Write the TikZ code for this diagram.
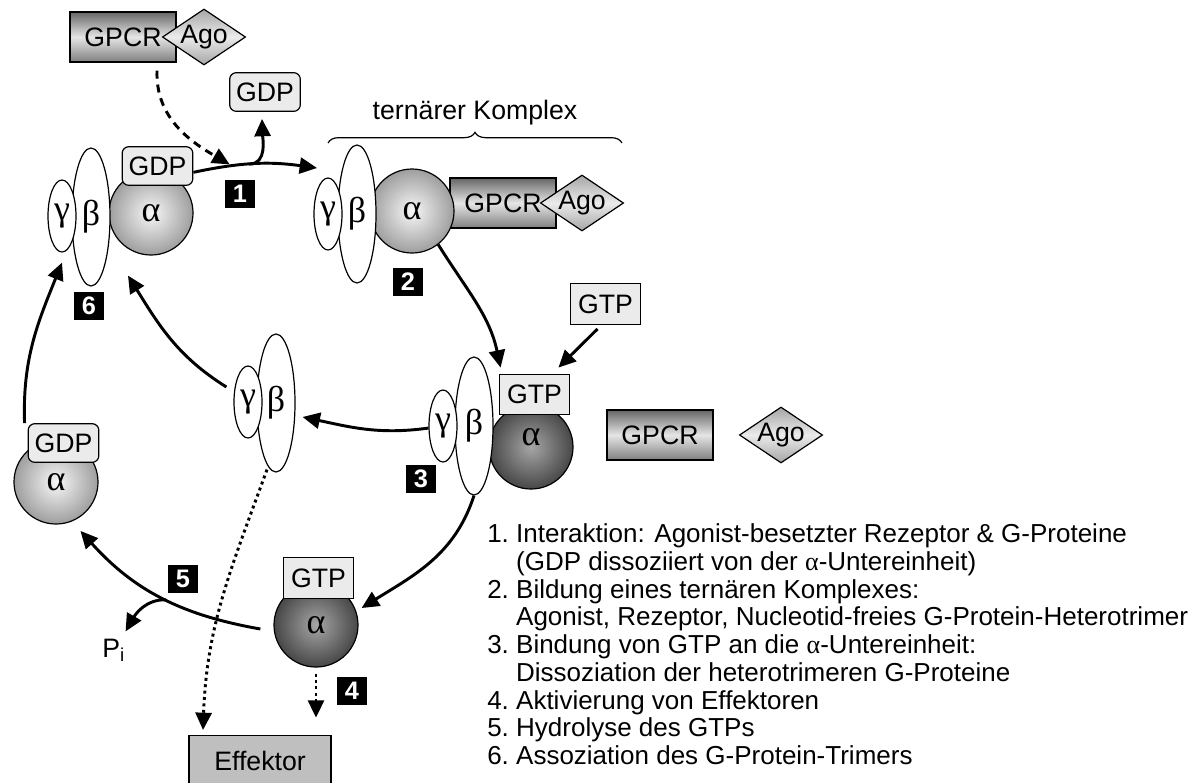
\documentclass[tikz,border=0pt]{standalone}
\usepackage{fontspec}
\setmainfont{Liberation Sans}
\newfontfamily\grk{Liberation Serif}
\usepackage{tikz}
\usetikzlibrary{shapes.geometric, arrows.meta, decorations.pathreplacing, calc}

\tikzset{
    sub/.style = {draw, line width = 0.9pt, inner sep = 0pt, font = \grk\fontsize{27}{27}\selectfont},
    gam/.style = {sub, ellipse, fill = white, minimum width = 21pt, minimum height = 54pt},
    bet/.style = {sub, ellipse, fill = white, minimum width = 28.5pt, minimum height = 103.5pt},
    alf/.style = {sub, circle, minimum size = 63pt, shading = radial, inner color = black!3, outer color = black!38},
    alfon/.style = {alf, inner color = black!35, outer color = black!72},
    gdp/.style = {draw, line width = 0.9pt, rounded corners = 5pt, fill = black!8, minimum width = 53pt, minimum height = 29pt, inner sep = 0pt},
    gtp/.style = {gdp, sharp corners, minimum height = 30.5pt},
    gpcr/.style = {draw, line width = 0.9pt, minimum width = 79.5pt, minimum height = 37.5pt, inner sep = 0pt, top color = black!60, bottom color = black!50, middle color = black!10},
    ago/.style = {draw, line width = 0.9pt, diamond, aspect = 1.5, inner sep = 0pt, minimum width = 61.5pt, minimum height = 42pt, top color = black!35, bottom color = black!35, middle color = black!8},
    num/.style = {fill = black, text = white, font = \bfseries\fontsize{19}{19}\selectfont, minimum width = 22pt, minimum height = 21pt, inner sep = 0pt},
    flow/.style = {line width = 2.2pt, -{Triangle[length = 13pt, width = 12pt]}},
    dots/.style = {flow, dash pattern = on 2.2pt off 2.6pt},
    dashflow/.style = {flow, dash pattern = on 6pt off 4.5pt}
}

\begin{document}
\begin{tikzpicture}[x = 0.75pt, y = -0.75pt, font = \fontsize{20}{20.8}\selectfont]
    \useasboundingbox (0,0) rectangle (1201,782);
    \coordinate (t1) at (317,168);
    \coordinate (kl) at (328,143);
    \coordinate (kr) at (622,143);

    \node[gpcr] (gpcr1) at (123,37) {GPCR};
    \node[ago] (ago1) at (204,37) {Ago};
    \node[gdp] (gdp1) at (265,92) {GDP};

    \node[alf] (a6) at (151,213) {α};
    \node[bet] (b6) at (91,217) {β};
    \node[gam] (g6) at (62,216) {γ};
    \node[gdp] (gdp6) at (157.5,166) {GDP};

    \node[gpcr] (gpcr2) at (503,203) {GPCR};
    \node[alf] (a2) at (412,211) {α};
    \node[bet] (b2) at (357,214) {β};
    \node[gam] (g2) at (328,214) {γ};
    \node[ago] (ago2) at (582,203) {Ago};
    \draw[line width = 0.9pt, decorate, decoration = {brace, amplitude = 8pt}] (kl) -- (kr);
    \node (komplex) at (475,113) {ternärer Komplex};

    \node[gtp] (gtp0) at (605.5,304) {GTP};
    \node[alfon] (a3) at (531,447) {\raisebox{15pt}{α}};
    \node[bet] (b3) at (474,426) {β};
    \node[gam] (g3) at (443,426) {γ};
    \node[gtp] (gtp3) at (534.5,394.5) {GTP};
    \node[gpcr] (gpcr3) at (660,435) {GPCR};
    \node[ago] (ago3) at (781,435) {Ago};

    \node[bet] (bf) at (276,403) {β};
    \node[gam] (gf) at (248,402) {γ};

    \node[alf] (a5) at (56,482) {α};
    \node[gdp] (gdp5) at (63.5,443) {GDP};

    \node[alfon] (a4) at (316,625) {α};
    \node[gtp] (gtp4) at (318.5,578) {GTP};
    \node[draw, line width = 0.9pt, fill = black!25, minimum width = 106.5pt, minimum height = 37.5pt, anchor = north] (eff) at (260,735) {Effektor};
    \node[anchor = base west, inner sep = 0pt] (pi) at (102,657) {P\textsubscript{i}};

    \node[num] (n1) at (240,194) {1};
    \node[num] (n2) at (408,282) {2};
    \node[num] (n3) at (421,479) {3};
    \node[num] (n4) at (352,691) {4};
    \node[num] (n5) at (183,579) {5};
    \node[num] (n6) at (89,306) {6};

    \draw[flow] (gdp6.-10) to[out = 12, in = 172] coordinate[pos = 0.3] (dtip) coordinate[pos = 0.45] (join) (t1);
    \draw[flow] (join) to[out = 0, in = -88] ($(gdp1.south)+(-3,7)$);
    \draw[dashflow, shorten > = 2pt] ($(gpcr1.south)+(34,8)$) to[out = -92, in = 150] (dtip);
    \draw[flow] (a2.-52) to[out = -58, in = 102] ($(gtp3.north west)+(2,-6)$);
    \draw[flow] ($(gtp0.south)+(-8,4)$) -- ($(gtp3.north east)+(-12,-6)$);
    \draw[flow] (g3.188) to[out = 188, in = -12] ($(bf.east)+(7,14)$);
    \draw[flow] ($(gf.west)+(-7,-15)$) to[out = 148, in = -58] ($(a6.south)+(-23,20)$);
    \draw[flow] ($(gdp5.north west)+(-3,0)$) to[out = 92, in = -112] ($(g6.south)+(0,10)$);
    \draw[flow] (b3.south) to[out = -108, in = 32] ($(a4.east)+(3,-17)$);
    \draw[flow] ($(a4.west)+(-13,4)$) to[out = 170, in = -48] coordinate[pos = 0.47] (hyd) ($(a5.-55)+(0,14)$);
    \draw[flow] (hyd) to[out = 178, in = 60] ($(pi.north)+(12,-7)$);
    \draw[dots] ($(bf.south)+(-9,-3)$) to[out = -110, in = 88] ($(eff.north)+(-57,-5)$);
    \draw[dots] ($(a4.south)+(0,6)$) -- ($(a4.south)+(0,50)$);

    \node[anchor = north west, inner sep = 0pt, font = \fontsize{19.5}{20.8}\selectfont] (liste) at (487,523) {%
        \begin{tabular}{@{}l@{\ }l@{}}
            1. & Interaktion: Agonist-besetzter Rezeptor \& G-Proteine\\
               & (GDP dissoziiert von der {\grk α}-Untereinheit)\\
            2. & Bildung eines ternären Komplexes:\\
               & Agonist, Rezeptor, Nucleotid-freies G-Protein-Heterotrimer\\
            3. & Bindung von GTP an die {\grk α}-Untereinheit:\\
               & Dissoziation der heterotrimeren G-Proteine\\
            4. & Aktivierung von Effektoren\\
            5. & Hydrolyse des GTPs\\
            6. & Assoziation des G-Protein-Trimers
        \end{tabular}};
\end{tikzpicture}
\end{document}
